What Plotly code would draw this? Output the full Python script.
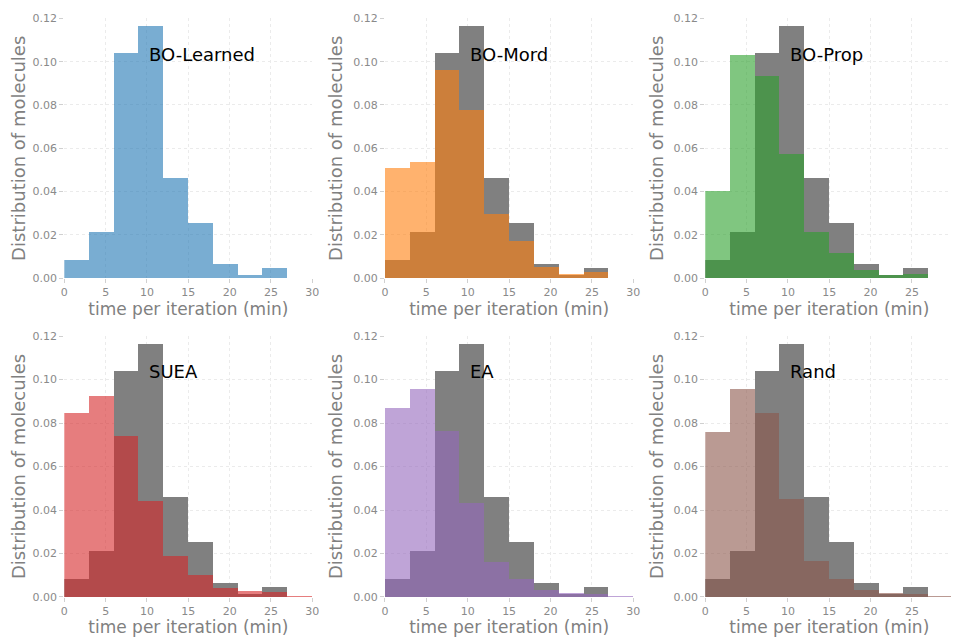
import plotly.graph_objects as go
from plotly.subplots import make_subplots

# histogram bin edges (minutes)
bin_edges = [0, 3, 6, 9, 12, 15, 18, 21, 24, 27, 30]

# baseline distribution (BO-Learned), shown in grey in the other panels
bo_learned = [0.0082, 0.0212, 0.1038, 0.1162, 0.0460, 0.0255, 0.0066, 0.0015, 0.0046, 0.0]
bo_mord = [0.0508, 0.0534, 0.0962, 0.0774, 0.0295, 0.0172, 0.0049, 0.0018, 0.0028, 0.0]
bo_prop = [0.0402, 0.1031, 0.0934, 0.0574, 0.0211, 0.0117, 0.0035, 0.0014, 0.0020, 0.0]
suea = [0.0844, 0.0923, 0.0740, 0.0443, 0.0187, 0.0101, 0.0043, 0.0026, 0.0025, 0.0006]
ea = [0.0870, 0.0955, 0.0763, 0.0431, 0.0161, 0.0084, 0.0032, 0.0020, 0.0015, 0.0005]
rand = [0.0757, 0.0958, 0.0846, 0.0449, 0.0164, 0.0084, 0.0032, 0.0020, 0.0015, 0.0005]

names = ['BO-Learned', 'BO-Mord', 'BO-Prop', 'SUEA', 'EA', 'Rand']
series = [bo_learned, bo_mord, bo_prop, suea, ea, rand]
colors = ['rgba(31,119,180,0.6)', 'rgba(255,127,14,0.6)', 'rgba(44,160,44,0.6)',
          'rgba(214,39,40,0.6)', 'rgba(148,103,189,0.6)', 'rgba(140,86,75,0.6)']

centers = [(a + b) / 2 for a, b in zip(bin_edges[:-1], bin_edges[1:])]
widths = [b - a for a, b in zip(bin_edges[:-1], bin_edges[1:])]

fig = make_subplots(rows=2, cols=3)

# page has an 8px body margin, so the figure is 951x629
xdom = [[0.0592, 0.32], [0.3964, 0.6575], [0.7332, 0.994]]
ydom = [[0.5703, 0.9836], [0.0636, 0.4785]]

for i, (name, vals, col) in enumerate(zip(names, series, colors)):
    r, c = i // 3 + 1, i % 3 + 1
    if i > 0:
        fig.add_trace(go.Bar(x=centers, y=bo_learned, width=widths,
                             marker=dict(color='#808080', line=dict(width=0)),
                             showlegend=False), row=r, col=c)
    fig.add_trace(go.Bar(x=centers, y=vals, width=widths,
                         marker=dict(color=col, line=dict(width=0)),
                         showlegend=False), row=r, col=c)
    fig.add_annotation(x=10, y=0.1035, text=name, showarrow=False,
                       xanchor='left', yanchor='middle',
                       font=dict(size=18, color='black', family='DejaVu Sans'),
                       row=r, col=c)
    fig.update_xaxes(domain=xdom[c - 1], range=[0, 30], tickvals=[0, 5, 10, 15, 20, 25, 30],
                     title=dict(text='time per iteration (min)', standoff=4,
                                font=dict(size=17, color='#808080')),
                     row=r, col=c)
    fig.update_yaxes(domain=ydom[r - 1], range=[0, 0.12],
                     tickvals=[0, 0.02, 0.04, 0.06, 0.08, 0.10, 0.12], tickformat='.2f',
                     title=dict(text='Distribution of molecules', standoff=5,
                                font=dict(size=18, color='#808080')),
                     row=r, col=c)

fig.update_xaxes(showgrid=True, gridcolor='#ebebeb', griddash='3px,3px', gridwidth=1,
                 zeroline=False, showline=False, ticks='outside', ticklen=4,
                 tickcolor='#d0d0d0', tickfont=dict(size=11, color='#8a8a8a'),
                 automargin=False)
fig.update_yaxes(showgrid=True, gridcolor='#ebebeb', griddash='3px,3px', gridwidth=1,
                 zeroline=False, showline=False, ticks='outside', ticklen=4,
                 tickcolor='#d0d0d0', tickfont=dict(size=11, color='#8a8a8a'),
                 automargin=False)

fig.update_layout(width=951, height=629, barmode='overlay', bargap=0,
                  plot_bgcolor='white', paper_bgcolor='white',
                  margin=dict(l=0, r=0, t=0, b=0),
                  font=dict(family='DejaVu Sans'))

fig.write_html("out.html")
